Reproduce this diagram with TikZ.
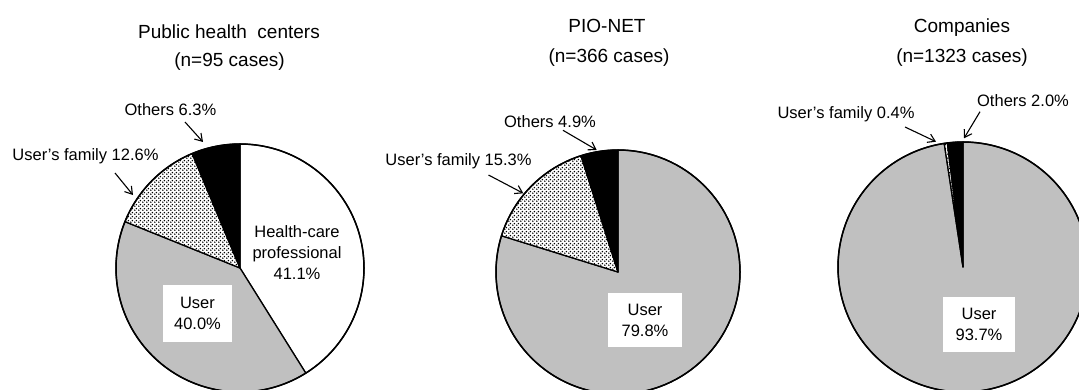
\documentclass[tikz,border=0pt]{standalone}
\usepackage{fontspec}
\setmainfont{Liberation Sans}
\usetikzlibrary{arrows.meta,patterns}

% fine diagonal dot screen for the "family" wedges
\pgfdeclarepatternformonly{finedots}{\pgfqpoint{0pt}{0pt}}{\pgfqpoint{3.6pt}{3.6pt}}{\pgfqpoint{3.6pt}{3.6pt}}{
  \pgfpathcircle{\pgfqpoint{0.9pt}{0.9pt}}{0.85pt}
  \pgfpathcircle{\pgfqpoint{2.7pt}{2.7pt}}{0.85pt}
  \pgfusepath{fill}}

\definecolor{usergray}{RGB}{192,192,192}

% wedge: centre, radius (pt), start angle, end angle, style
\newcommand{\wedgepart}[5]{%
  \path[#5] (#1) -- ++(#3:#2 pt) arc[start angle=#3, end angle=#4, radius=#2 pt] -- cycle;}

\tikzset{
  edge/.style={draw=black, line width=1.3pt, line join=round},
  userpart/.style={edge, fill=usergray},
  profpart/.style={edge, fill=white},
  otherpart/.style={edge, fill=black},
  familypart/.style={edge, preaction={fill=white}, pattern=finedots},
  rim/.style={draw=black, line width=1.5pt},
  ttl/.style={font=\fontsize{19}{23}\selectfont, anchor=base, inner sep=0pt},
  lbl/.style={font=\fontsize{16.5}{20}\selectfont, anchor=base, inner sep=0pt},
  valbox/.style={fill=white, inner sep=0pt, align=center,
                 font=\fontsize{16.5}{21}\selectfont},
  pointer/.style={-{Straight Barb[length=7pt,width=9pt]}, line width=1.1pt},
}

\begin{document}
\begin{tikzpicture}[x=1pt,y=1pt]
\useasboundingbox (0,0) rectangle (1079,389);

% ---------- Public health centers ----------
\coordinate (c1) at (240,121);
\wedgepart{c1}{124}{90}{-57.96}{profpart}
\wedgepart{c1}{124}{-57.96}{-201.96}{userpart}
\wedgepart{c1}{124}{-201.96}{-247.32}{familypart}
\wedgepart{c1}{124}{-247.32}{-270}{otherpart}
\draw[rim] (c1) circle[radius=124pt];

\node[ttl] (t1a) at (229,350.7) {Public health\ \ centers};
\node[ttl] (t1b) at (229.5,322.3) {(n=95 cases)};
\node[lbl] (o1) at (170.5,273.3) {Others 6.3\%};
\node[lbl] (f1) at (85.5,228.3) {User’s family 12.6\%};
\coordinate (o1tip) at (203,247);
\coordinate (f1tip) at (133,194);
\draw[pointer] ([xshift=14.5pt,yshift=-6.3pt]o1.base) -- (o1tip);
\draw[pointer] ([xshift=29.5pt,yshift=-12.3pt]f1.base) -- (f1tip);
\node[align=center, inner sep=0pt, font=\fontsize{16.5}{21}\selectfont] (h1) at (297,136)
  {Health-care\\professional\\41.1\%};
\node[valbox, minimum width=69pt, minimum height=57pt] (u1) at (197.5,75.5) {User\\40.0\%};

% ---------- PIO-NET ----------
\coordinate (c2) at (618,117);
\wedgepart{c2}{122}{90}{-197.28}{userpart}
\wedgepart{c2}{122}{-197.28}{-252.36}{familypart}
\wedgepart{c2}{122}{-252.36}{-270}{otherpart}
\draw[rim] (c2) circle[radius=122pt];

\node[ttl] (t2a) at (607,356) {PIO-NET};
\node[ttl] (t2b) at (609,326) {(n=366 cases)};
\node[lbl] (o2) at (550,261.7) {Others 4.9\%};
\node[lbl] (f2) at (458.5,224) {User’s family 15.3\%};
\coordinate (o2tip) at (596.7,239);
\coordinate (f2tip) at (523.3,195.7);
\draw[pointer] ([xshift=13pt,yshift=-3pt]o2.base) -- (o2tip);
\draw[pointer] ([xshift=30pt,yshift=-10pt]f2.base) -- (f2tip);
\node[valbox, minimum width=74pt, minimum height=54pt] (u2) at (645,69) {User\\79.8\%};

% ---------- Companies ----------
\coordinate (c3) at (963,122);
\wedgepart{c3}{125}{90}{-261.36}{userpart}
\wedgepart{c3}{125}{-261.36}{-262.8}{familypart}
\wedgepart{c3}{125}{-262.8}{-270}{otherpart}
\draw[rim] (c3) circle[radius=125pt];

\node[ttl] (t3a) at (962,356) {Companies};
\node[ttl] (t3b) at (962,326) {(n=1323 cases)};
\node[lbl] (f3) at (846,270) {User’s family 0.4\%};
\node[lbl] (o3) at (1023,282.3) {Others 2.0\%};
\coordinate (f3tip) at (936,247.3);
\coordinate (o3tip) at (964,250.7);
\draw[pointer] ([xshift=59pt,yshift=-8pt]f3.base) -- (f3tip);
\draw[pointer] ([xshift=-43pt,yshift=-5pt]o3.base) -- (o3tip);
\node[valbox, minimum width=72pt, minimum height=55pt] (u3) at (979,64.5) {User\\93.7\%};
\end{tikzpicture}
\end{document}
